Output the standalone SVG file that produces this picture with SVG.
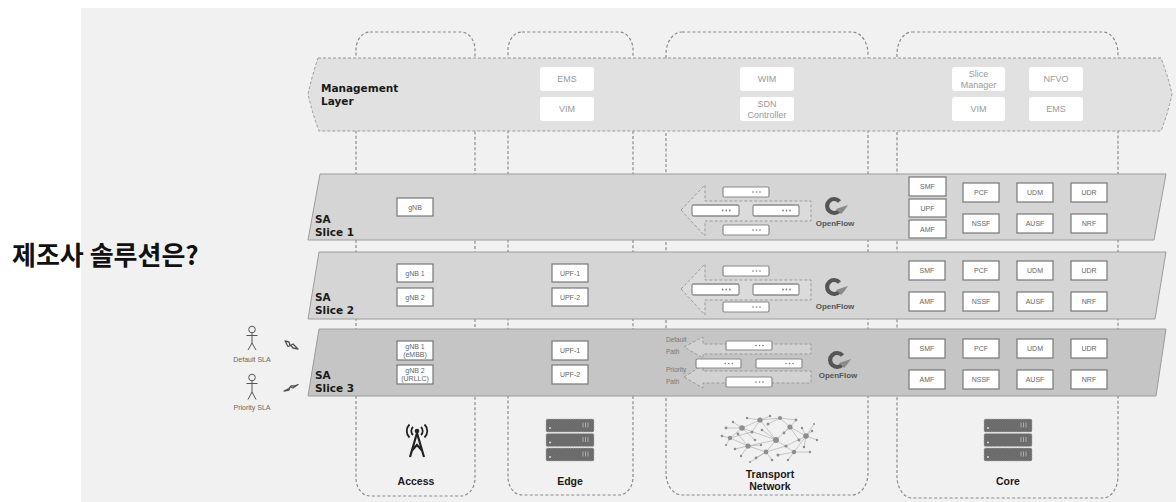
<svg xmlns="http://www.w3.org/2000/svg" width="1176" height="502" viewBox="0 0 1176 502">
  <defs>
    <style>
      .col{fill:none;stroke:#8a8a8a;stroke-width:1.2;stroke-dasharray:3 2.2}
      .layer{stroke:#9c9c9c;stroke-width:1}
      .mbox{fill:#fff}
      .mtxt{font-family:"Liberation Sans",Arial,sans-serif;font-size:9px;fill:#9a9a9a;text-anchor:middle}
      .nf rect{fill:#fff;stroke:#777;stroke-width:1.2}
      .nf text{font-family:"Liberation Sans",Arial,sans-serif;font-size:7px;fill:#666;text-anchor:middle}
      .title{font-family:"DejaVu Sans",Verdana,sans-serif;font-weight:bold;font-size:10.5px;fill:#1a1a1a}
      .lbl{font-family:"Liberation Sans",Arial,sans-serif;font-weight:bold;font-size:10.5px;fill:#1a1a1a;text-anchor:middle}
      .flow{stroke:#9a9a9a;stroke-width:1;stroke-dasharray:3 2}
      .small{font-family:"Liberation Sans",Arial,sans-serif;font-size:6.5px;fill:#777}
      .sla{font-family:"Liberation Sans",Arial,sans-serif;font-size:7px;fill:#666;text-anchor:middle}
      .of{font-family:"Liberation Sans",Arial,sans-serif;font-weight:bold;font-size:8px;fill:#555;text-anchor:middle}
      .fig{fill:none;stroke:#555;stroke-width:1}
      .bolt{fill:none;stroke:#555;stroke-width:1.3;stroke-linejoin:round}
      .net line{stroke:#a8a8a8;stroke-width:0.6}
      .net circle{fill:#8e8e8e}
    </style>
    <!-- switch element with status dots -->
    <symbol id="switch" viewBox="0 0 46 10" preserveAspectRatio="none" overflow="visible">
      <rect x="0" y="0" width="46" height="10" rx="1.5" fill="#fff" stroke="#8a8a8a" stroke-width="1.2"/>
      <circle cx="30" cy="5" r="0.8" fill="#777"/>
      <circle cx="33.5" cy="5" r="0.8" fill="#777"/>
      <circle cx="37" cy="5" r="0.8" fill="#777"/>
    </symbol>
    <!-- OpenFlow mark -->
    <g id="ofmark">
      <path d="M5.5,-4.5 A7,7 0 1 0 5.5,4.5" fill="none" stroke="#555" stroke-width="4.2"/>
      <path d="M2,3 Q8,1 14,-1 Q11,4 7,8 Z" fill="#8a8a8a"/>
    </g>
    <!-- rack server -->
    <g id="rack">
      <rect x="0" y="0" width="48" height="13" rx="1.5" fill="#6c6c6c" stroke="#b0b0b0" stroke-width="0.8" stroke-dasharray="1.5 1"/>
      <rect x="0" y="14.5" width="48" height="13" rx="1.5" fill="#6c6c6c" stroke="#b0b0b0" stroke-width="0.8" stroke-dasharray="1.5 1"/>
      <rect x="0" y="29" width="48" height="13" rx="1.5" fill="#6c6c6c" stroke="#b0b0b0" stroke-width="0.8" stroke-dasharray="1.5 1"/>
      <g fill="#ddd">
        <circle cx="4" cy="9" r="1"/><circle cx="4" cy="23.5" r="1"/><circle cx="4" cy="38" r="1"/>
      </g>
      <g stroke="#c8c8c8" stroke-width="0.7">
        <path d="M37,3.5v5M39.5,3.5v5M42,3.5v5M37,18v5M39.5,18v5M42,18v5M37,32.5v5M39.5,32.5v5M42,32.5v5"/>
      </g>
    </g>
  </defs>

  <rect x="0" y="0" width="1176" height="502" fill="#fff"/>
  <rect x="81" y="8" width="1095" height="494" fill="#f1f1f1"/>

  <text x="12" y="265" font-family="'Noto Sans CJK KR','Noto Sans',sans-serif" font-weight="bold" font-size="26" fill="#111">제조사 솔루션은?</text>

  <!-- domain columns -->
  <g id="domain-columns">
    <rect class="col" x="356" y="32" width="119" height="464" rx="14" ry="18"/>
    <rect class="col" x="508" y="32" width="125" height="463" rx="14" ry="18"/>
    <rect class="col" x="666" y="32" width="202" height="463" rx="16" ry="22"/>
    <rect class="col" x="897" y="32" width="221" height="466" rx="15" ry="22"/>
  </g>

  <!-- management layer -->
  <g id="management-layer">
    <path d="M318,58 L1161,58 Q1168,76 1172,94 Q1168,113 1161,131 L319,131 Q312,112 308,94 Q312,76 318,58 Z" fill="#e1e1e1" class="flow"/>
    <text class="title" x="321" y="92">Management</text>
    <text class="title" x="321" y="105">Layer</text>
  </g>
  <g id="mgmt-ems-edge"><rect class="mbox" x="540" y="67" width="54" height="24" rx="3"/><text class="mtxt" x="567" y="82">EMS</text></g>
  <g id="mgmt-vim-edge"><rect class="mbox" x="540" y="97" width="54" height="24" rx="3"/><text class="mtxt" x="567" y="112">VIM</text></g>
  <g id="mgmt-wim"><rect class="mbox" x="740" y="67" width="54" height="24" rx="3"/><text class="mtxt" x="767" y="82">WIM</text></g>
  <g id="mgmt-sdn"><rect class="mbox" x="740" y="97" width="54" height="24" rx="3"/><text class="mtxt" x="767" y="107">SDN</text><text class="mtxt" x="767" y="118">Controller</text></g>
  <g id="mgmt-slice-manager"><rect class="mbox" x="952" y="67" width="53" height="24" rx="3"/><text class="mtxt" x="978.5" y="77">Slice</text><text class="mtxt" x="978.5" y="88">Manager</text></g>
  <g id="mgmt-nfvo"><rect class="mbox" x="1029" y="67" width="54" height="24" rx="3"/><text class="mtxt" x="1056" y="82">NFVO</text></g>
  <g id="mgmt-vim-core"><rect class="mbox" x="952" y="97" width="53" height="24" rx="3"/><text class="mtxt" x="978.5" y="112">VIM</text></g>
  <g id="mgmt-ems-core"><rect class="mbox" x="1029" y="97" width="54" height="24" rx="3"/><text class="mtxt" x="1056" y="112">EMS</text></g>

  <!-- slice planes -->
  <g id="slice-1">
    <path class="layer" d="M320,174 L1166,174 L1154,240 L308,240 Z" fill="#d5d5d5"/>
    <text class="title" x="315" y="223">SA</text>
    <text class="title" x="315" y="236">Slice 1</text>
  </g>
  <g id="slice-2">
    <path class="layer" d="M319,252 L1166,252 L1155,319 L308,319 Z" fill="#d5d5d5"/>
    <text class="title" x="315" y="301">SA</text>
    <text class="title" x="315" y="314">Slice 2</text>
  </g>
  <g id="slice-3">
    <path class="layer" d="M319,329 L1166,329 L1156,396 L308,396 Z" fill="#c5c5c5"/>
    <text class="title" x="315" y="379">SA</text>
    <text class="title" x="315" y="392">Slice 3</text>
  </g>

  <!-- transport flow paths -->
  <g id="connectors">
    <path class="flow" fill="#dbdbdb" d="M681,210 L705,185 L705,201 L811,201 L811,221 L705,221 L705,236 Z"/>
    <path class="flow" fill="#dbdbdb" d="M681,289 L705,264 L705,280 L811,280 L811,300 L705,300 L705,315 Z"/>
    <path class="flow" fill="#d2d2d2" d="M684,347 L703,337 L703,344 L811,344 L811,354 L703,354 L703,358 Z"/>
    <path class="flow" fill="#d2d2d2" d="M684,377 L703,365 L703,371 L811,371 L811,383 L703,383 L703,388 Z"/>
  </g>

  <!-- slice 1 functions -->
  <g class="nf" id="s1-gnb"><rect x="397" y="198" width="36" height="18"/><text x="415" y="209.5">gNB</text></g>
  <g id="s1-switches">
    <use href="#switch" x="723" y="187" width="46" height="10"/>
    <use href="#switch" x="692" y="205" width="47" height="11"/>
    <use href="#switch" x="753" y="205" width="46" height="11"/>
    <use href="#switch" x="723" y="225" width="46" height="10"/>
  </g>
  <g id="s1-openflow"><use href="#ofmark" x="834" y="206"/><text class="of" x="835" y="226">OpenFlow</text></g>
  <g class="nf" id="s1-smf"><rect x="909" y="177" width="37" height="19"/><text x="927.5" y="189">SMF</text></g>
  <g class="nf" id="s1-upf"><rect x="909" y="199" width="37" height="18"/><text x="927.5" y="210.5">UPF</text></g>
  <g class="nf" id="s1-amf"><rect x="909" y="220" width="37" height="18"/><text x="927.5" y="231.5">AMF</text></g>
  <g class="nf" id="s1-pcf"><rect x="963" y="183" width="36" height="19"/><text x="981" y="195">PCF</text></g>
  <g class="nf" id="s1-udm"><rect x="1017" y="183" width="36" height="19"/><text x="1035" y="195">UDM</text></g>
  <g class="nf" id="s1-udr"><rect x="1071" y="183" width="36" height="19"/><text x="1089" y="195">UDR</text></g>
  <g class="nf" id="s1-nssf"><rect x="963" y="214" width="36" height="19"/><text x="981" y="226">NSSF</text></g>
  <g class="nf" id="s1-ausf"><rect x="1017" y="214" width="36" height="19"/><text x="1035" y="226">AUSF</text></g>
  <g class="nf" id="s1-nrf"><rect x="1071" y="214" width="36" height="19"/><text x="1089" y="226">NRF</text></g>

  <!-- slice 2 functions -->
  <g class="nf" id="s2-gnb1"><rect x="397" y="264" width="36" height="18"/><text x="415" y="275.5">gNB 1</text></g>
  <g class="nf" id="s2-gnb2"><rect x="397" y="288" width="36" height="18"/><text x="415" y="299.5">gNB 2</text></g>
  <g class="nf" id="s2-upf1"><rect x="552" y="264" width="36" height="18"/><text x="570" y="275.5">UPF-1</text></g>
  <g class="nf" id="s2-upf2"><rect x="552" y="288" width="36" height="18"/><text x="570" y="299.5">UPF-2</text></g>
  <g id="s2-switches">
    <use href="#switch" x="723" y="266" width="46" height="10"/>
    <use href="#switch" x="692" y="284" width="47" height="11"/>
    <use href="#switch" x="753" y="284" width="46" height="11"/>
    <use href="#switch" x="723" y="302" width="46" height="10"/>
  </g>
  <g id="s2-openflow"><use href="#ofmark" x="834" y="287"/><text class="of" x="835" y="309">OpenFlow</text></g>
  <g class="nf" id="s2-smf"><rect x="909" y="261" width="36" height="19"/><text x="927" y="273">SMF</text></g>
  <g class="nf" id="s2-pcf"><rect x="963" y="261" width="36" height="19"/><text x="981" y="273">PCF</text></g>
  <g class="nf" id="s2-udm"><rect x="1017" y="261" width="36" height="19"/><text x="1035" y="273">UDM</text></g>
  <g class="nf" id="s2-udr"><rect x="1071" y="261" width="36" height="19"/><text x="1089" y="273">UDR</text></g>
  <g class="nf" id="s2-amf"><rect x="909" y="292" width="36" height="19"/><text x="927" y="304">AMF</text></g>
  <g class="nf" id="s2-nssf"><rect x="963" y="292" width="36" height="19"/><text x="981" y="304">NSSF</text></g>
  <g class="nf" id="s2-ausf"><rect x="1017" y="292" width="36" height="19"/><text x="1035" y="304">AUSF</text></g>
  <g class="nf" id="s2-nrf"><rect x="1071" y="292" width="36" height="19"/><text x="1089" y="304">NRF</text></g>

  <!-- slice 3 functions -->
  <g class="nf" id="s3-gnb1"><rect x="397" y="341" width="36" height="19"/><text x="415" y="349">gNB 1</text><text x="415" y="357">(eMBB)</text></g>
  <g class="nf" id="s3-gnb2"><rect x="397" y="365" width="36" height="19"/><text x="415" y="373">gNB 2</text><text x="415" y="381">(URLLC)</text></g>
  <g class="nf" id="s3-upf1"><rect x="552" y="341" width="36" height="19"/><text x="570" y="353">UPF-1</text></g>
  <g class="nf" id="s3-upf2"><rect x="552" y="365" width="36" height="19"/><text x="570" y="377">UPF-2</text></g>
  <g id="s3-paths">
    <text class="small" x="666" y="342">Default</text>
    <text class="small" x="666" y="354">Path</text>
    <text class="small" x="666" y="372">Priority</text>
    <text class="small" x="666" y="384">Path</text>
  </g>
  <g id="s3-switches">
    <use href="#switch" x="726" y="341" width="46" height="9"/>
    <use href="#switch" x="696" y="359" width="45" height="9"/>
    <use href="#switch" x="756" y="359" width="46" height="9"/>
    <use href="#switch" x="726" y="377" width="46" height="10"/>
  </g>
  <g id="s3-openflow"><use href="#ofmark" x="837" y="360"/><text class="of" x="838" y="378">OpenFlow</text></g>
  <g class="nf" id="s3-smf"><rect x="909" y="339" width="36" height="19"/><text x="927" y="351">SMF</text></g>
  <g class="nf" id="s3-pcf"><rect x="963" y="339" width="36" height="19"/><text x="981" y="351">PCF</text></g>
  <g class="nf" id="s3-udm"><rect x="1017" y="339" width="36" height="19"/><text x="1035" y="351">UDM</text></g>
  <g class="nf" id="s3-udr"><rect x="1071" y="339" width="36" height="19"/><text x="1089" y="351">UDR</text></g>
  <g class="nf" id="s3-amf"><rect x="909" y="370" width="36" height="19"/><text x="927" y="382">AMF</text></g>
  <g class="nf" id="s3-nssf"><rect x="963" y="370" width="36" height="19"/><text x="981" y="382">NSSF</text></g>
  <g class="nf" id="s3-ausf"><rect x="1017" y="370" width="36" height="19"/><text x="1035" y="382">AUSF</text></g>
  <g class="nf" id="s3-nrf"><rect x="1071" y="370" width="36" height="19"/><text x="1089" y="382">NRF</text></g>

  <!-- users -->
  <g id="user-default">
    <circle class="fig" cx="252" cy="329.5" r="3.3"/>
    <path class="fig" d="M252,333 V343 M246.5,335.5 H257.5 M252,343 L248,350 M252,343 L256,350"/>
    <text class="sla" x="252" y="362">Default SLA</text>
    <path class="bolt" d="M285,341 L289,342 L290,345.5 L293,344 L298,349 L293,348 L291,345.5 L288,346.5 Z"/>
  </g>
  <g id="user-priority">
    <circle class="fig" cx="252" cy="377.5" r="3.3"/>
    <path class="fig" d="M252,381 V392 M246.5,383.5 H257.5 M252,392 L248,399.5 M252,392 L256,399.5"/>
    <text class="sla" x="252" y="410">Priority SLA</text>
    <path class="bolt" d="M284,391 L289,390 L290,387 L293,388 L298,384.5 L294,386 L291,386 L289,388.5 Z"/>
  </g>

  <!-- domain labels and icons -->
  <g id="access">
    <circle cx="417" cy="431" r="2.3" fill="#222"/>
    <g fill="none" stroke="#222" stroke-width="1.8">
      <path d="M413,427 A5.5,5.5 0 0 0 413,435"/>
      <path d="M409.5,424.5 A9,9 0 0 0 409.5,437.5"/>
      <path d="M421,427 A5.5,5.5 0 0 1 421,435"/>
      <path d="M424.5,424.5 A9,9 0 0 1 424.5,437.5"/>
      <path d="M417,433 L410,457 M417,433 L424,457 M411.5,451 L417,445 L422.5,451" stroke-width="2.2"/>
    </g>
    <text class="lbl" x="416" y="485">Access</text>
  </g>
  <g id="edge">
    <use href="#rack" x="546" y="419"/>
    <text class="lbl" x="570" y="485">Edge</text>
  </g>
  <g id="transport">
    <g class="net">
      <line x1="742" y1="428" x2="760" y2="420"/><line x1="760" y1="420" x2="780" y2="418"/>
      <line x1="780" y1="418" x2="790" y2="427"/><line x1="790" y1="427" x2="806" y2="436"/>
      <line x1="806" y1="436" x2="794" y2="452"/><line x1="794" y1="452" x2="776" y2="440"/>
      <line x1="776" y1="440" x2="742" y2="428"/><line x1="742" y1="428" x2="730" y2="438"/>
      <line x1="730" y1="438" x2="748" y2="446"/><line x1="748" y1="446" x2="766" y2="452"/>
      <line x1="766" y1="452" x2="776" y2="440"/><line x1="776" y1="440" x2="790" y2="427"/>
      <line x1="760" y1="420" x2="776" y2="440"/><line x1="748" y1="446" x2="776" y2="440"/>
      <line x1="722" y1="436" x2="730" y2="438"/><line x1="726" y1="428" x2="742" y2="428"/>
      <line x1="733" y1="422" x2="742" y2="428"/><line x1="738" y1="434" x2="748" y2="446"/>
      <line x1="735" y1="449" x2="748" y2="446"/><line x1="741" y1="456" x2="748" y2="446"/>
      <line x1="747" y1="418" x2="760" y2="420"/><line x1="752" y1="432" x2="760" y2="420"/>
      <line x1="755" y1="440" x2="742" y2="428"/><line x1="756" y1="458" x2="766" y2="452"/>
      <line x1="762" y1="430" x2="776" y2="440"/><line x1="768" y1="424" x2="780" y2="418"/>
      <line x1="770" y1="416" x2="760" y2="420"/><line x1="772" y1="460" x2="766" y2="452"/>
      <line x1="778" y1="455" x2="794" y2="452"/><line x1="784" y1="433" x2="790" y2="427"/>
      <line x1="786" y1="446" x2="806" y2="436"/><line x1="796" y1="420" x2="790" y2="427"/>
      <line x1="799" y1="440" x2="790" y2="427"/><line x1="802" y1="428" x2="806" y2="436"/>
      <line x1="804" y1="447" x2="806" y2="436"/><line x1="812" y1="431" x2="806" y2="436"/>
      <line x1="817" y1="440" x2="806" y2="436"/><line x1="810" y1="452" x2="794" y2="452"/>
      <line x1="788" y1="460" x2="794" y2="452"/><line x1="761" y1="445" x2="748" y2="446"/>
      <line x1="750" y1="462" x2="766" y2="452"/><line x1="726" y1="445" x2="730" y2="438"/>
      <line x1="814" y1="424" x2="806" y2="436"/><line x1="766" y1="452" x2="786" y2="446"/>
      <line x1="752" y1="432" x2="730" y2="438"/><line x1="780" y1="418" x2="796" y2="420"/>
    </g>
    <g class="net">
      <circle cx="742" cy="428" r="2.8"/><circle cx="760" cy="420" r="2.6"/><circle cx="776" cy="440" r="3"/>
      <circle cx="790" cy="427" r="2.6"/><circle cx="806" cy="436" r="2.8"/><circle cx="748" cy="446" r="2.6"/>
      <circle cx="766" cy="452" r="2.4"/><circle cx="794" cy="452" r="2.2"/><circle cx="730" cy="438" r="2.2"/>
      <circle cx="780" cy="418" r="2"/>
      <circle cx="722" cy="436" r="1.3"/><circle cx="726" cy="428" r="1.4"/><circle cx="733" cy="422" r="1.2"/>
      <circle cx="738" cy="434" r="1.4"/><circle cx="735" cy="449" r="1.3"/><circle cx="741" cy="456" r="1.2"/>
      <circle cx="747" cy="418" r="1.2"/><circle cx="752" cy="432" r="1.5"/><circle cx="755" cy="440" r="1.3"/>
      <circle cx="756" cy="458" r="1.4"/><circle cx="762" cy="430" r="1.3"/><circle cx="768" cy="424" r="1.5"/>
      <circle cx="770" cy="416" r="1.2"/><circle cx="772" cy="460" r="1.3"/><circle cx="778" cy="455" r="1.5"/>
      <circle cx="784" cy="433" r="1.4"/><circle cx="786" cy="446" r="1.6"/><circle cx="796" cy="420" r="1.4"/>
      <circle cx="799" cy="440" r="1.5"/><circle cx="802" cy="428" r="1.2"/><circle cx="804" cy="447" r="1.3"/>
      <circle cx="812" cy="431" r="1.3"/><circle cx="817" cy="440" r="1.2"/><circle cx="810" cy="452" r="1.2"/>
      <circle cx="788" cy="460" r="1.2"/><circle cx="761" cy="445" r="1.2"/><circle cx="750" cy="462" r="1"/>
      <circle cx="726" cy="445" r="1.1"/><circle cx="814" cy="424" r="1"/>
    </g>
    <text class="lbl" x="770" y="478">Transport</text>
    <text class="lbl" x="770" y="490">Network</text>
  </g>
  <g id="core">
    <use href="#rack" x="984" y="419"/>
    <text class="lbl" x="1008" y="485">Core</text>
  </g>
</svg>
